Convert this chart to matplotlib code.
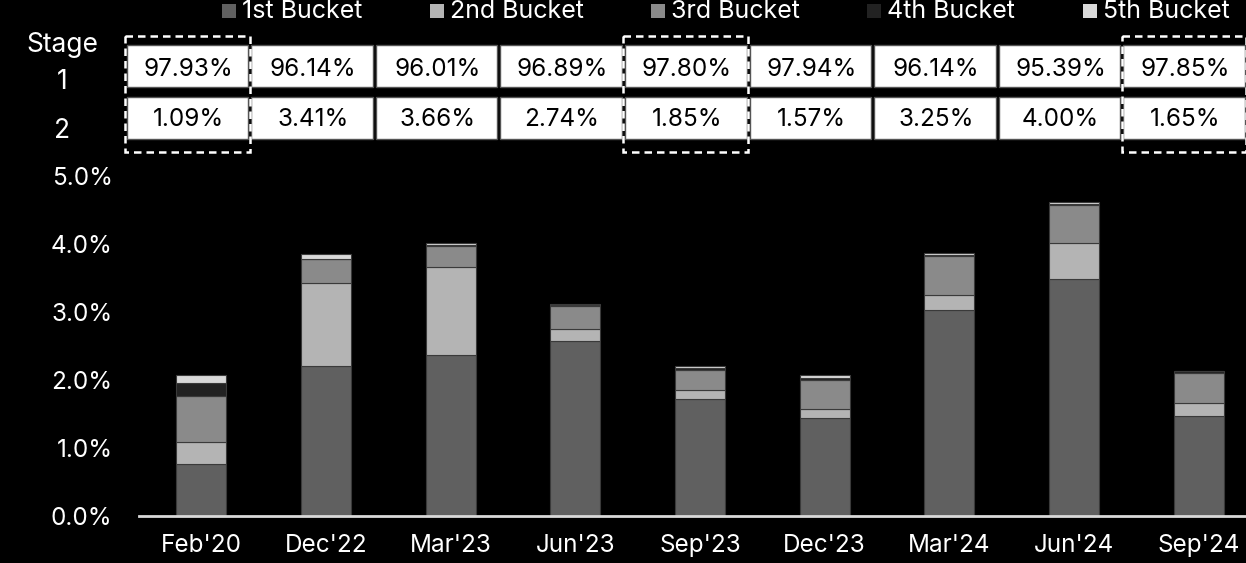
import matplotlib
matplotlib.use("Agg")
import matplotlib.pyplot as plt
import numpy as np
from matplotlib.patches import Rectangle

# data (percent)
periods = ["Feb'20", "Dec'22", "Mar'23", "Jun'23", "Sep'23", "Dec'23", "Mar'24", "Jun'24", "Sep'24"]
bucket_names = ["1st Bucket", "2nd Bucket", "3rd Bucket", "4th Bucket", "5th Bucket"]
bucket1 = [0.76, 2.21, 2.37, 2.57, 1.72, 1.44, 3.03, 3.49, 1.47]
bucket2 = [0.33, 1.21, 1.29, 0.18, 0.14, 0.14, 0.22, 0.52, 0.19]
bucket3 = [0.68, 0.36, 0.31, 0.34, 0.29, 0.42, 0.58, 0.57, 0.45]
bucket4 = [0.19, 0.00, 0.01, 0.01, 0.02, 0.03, 0.01, 0.01, 0.02]
bucket5 = [0.11, 0.08, 0.04, 0.02, 0.04, 0.04, 0.03, 0.03, 0.00]
stage1 = ["97.93%", "96.14%", "96.01%", "96.89%", "97.80%", "97.94%", "96.14%", "95.39%", "97.85%"]
stage2 = ["1.09%", "3.41%", "3.66%", "2.74%", "1.85%", "1.57%", "3.25%", "4.00%", "1.65%"]
highlight = [0, 4, 8]

colors = ["#606060", "#b4b4b4", "#8a8a8a", "#222222", "#d9d9d9"]

plt.rcParams['font.family'] = ['Inter', 'DejaVu Sans']

W, H = 1246, 563
fig = plt.figure(figsize=(W / 100, H / 100), dpi=100, facecolor="black")

# main bar axes
ax = fig.add_axes([139 / W, (H - 516) / H, (W - 139) / W, 340 / H], facecolor="black")
x = np.arange(len(periods))
bottom = np.zeros(len(periods))
for vals, c in zip([bucket1, bucket2, bucket3, bucket4, bucket5], colors):
    ax.bar(x, vals, 0.40, bottom=bottom, color=c, edgecolor="#3a3a3a", linewidth=0.8)
    bottom += np.array(vals)

ax.set_xlim(-0.5, 8.38)
ax.set_ylim(0, 5.0)
ax.set_yticks(np.arange(0, 5.01, 1.0))
ax.set_yticklabels([f"{v:.1f}%" for v in np.arange(0, 5.01, 1.0)])
ax.set_xticks(x)
ax.set_xticklabels(periods)
for s in ["top", "right", "left"]:
    ax.spines[s].set_visible(False)
ax.spines["bottom"].set_color("#d9d9d9")
ax.spines["bottom"].set_linewidth(2)
ax.tick_params(axis="both", length=0, colors="white", labelsize=17.5)
ax.tick_params(axis="x", pad=13)
ax.tick_params(axis="y", pad=19)

# overlay in pixel coordinates for table and legend
ov = fig.add_axes([0, 0, 1, 1], facecolor="none")
ov.set_xlim(0, W)
ov.set_ylim(H, 0)
ov.axis("off")

col_x0 = 125
col_w = 124.6
rows = [(45, 87, 75.5, stage1), (97, 139, 126.5, stage2)]
for i in range(len(periods)):
    cx = col_x0 + i * col_w
    for (y0, y1, yb, labels) in rows:
        ov.add_patch(Rectangle((cx + 1.5, y0), col_w - 3, y1 - y0,
                               facecolor="white", edgecolor="#555555", linewidth=1))
        ov.text(cx + col_w / 2 + 1, yb, labels[i], ha="center", va="baseline",
                fontsize=17.5, color="black")
for i in highlight:
    cx = col_x0 + i * col_w
    ov.add_patch(Rectangle((cx, 36), col_w, 116, facecolor="none",
                           edgecolor="white", linewidth=1.8, linestyle=(0, (3, 2))))

ov.text(62, 45, "Stage", ha="center", va="center", fontsize=19, color="white")
ov.text(62, 82, "1", ha="center", va="center", fontsize=19, color="white")
ov.text(62, 131, "2", ha="center", va="center", fontsize=19, color="white")

# legend
leg_x = [222, 430, 651, 867, 1083]
for lx, name, c in zip(leg_x, bucket_names, colors):
    ov.add_patch(Rectangle((lx, 4), 14, 13.5, facecolor=c, edgecolor="none"))
    ov.text(lx + 20, 18, name, ha="left", va="baseline", fontsize=18, color="white")

fig.savefig("out.png", dpi=100, facecolor="black")
